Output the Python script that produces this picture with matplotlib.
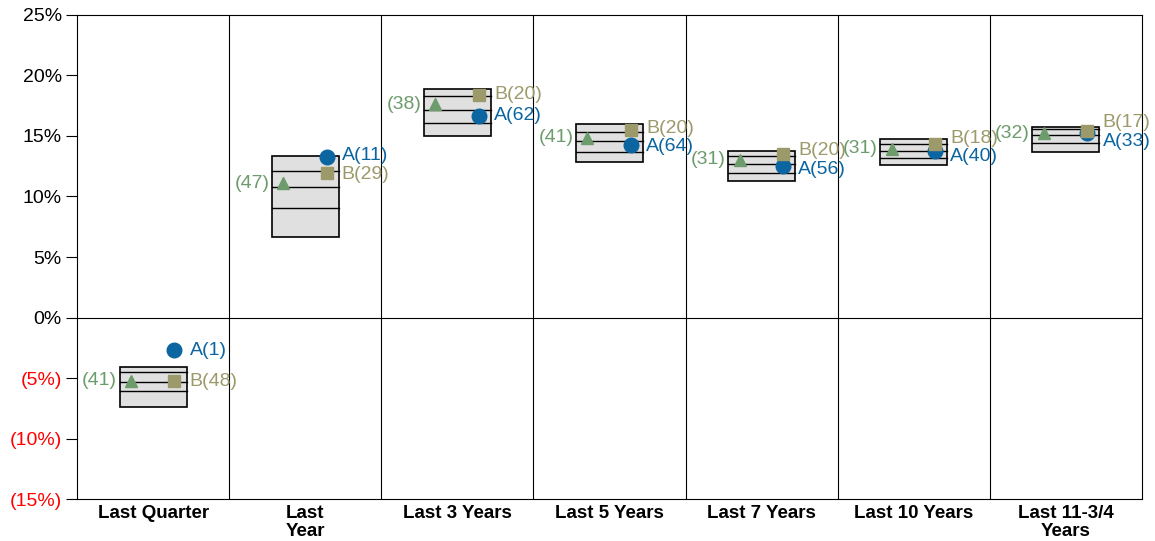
import numpy as np
import matplotlib.pyplot as plt
from matplotlib.patches import Rectangle
from matplotlib.ticker import FuncFormatter

plt.rcParams['font.family'] = ['Liberation Sans', 'DejaVu Sans']

categories = ['Last Quarter', 'Last\nYear', 'Last 3 Years', 'Last 5 Years',
              'Last 7 Years', 'Last 10 Years', 'Last 11-3/4\nYears']

# percentile boxes: top (5th), 25th, median, 75th, bottom (95th)
p05 = [-4.09, 13.37, 18.88, 15.97, 13.79, 14.73, 15.77]
p25 = [-4.48, 12.13, 18.33, 15.36, 13.35, 14.31, 15.55]
p50 = [-5.31, 10.81, 17.15, 14.61, 12.66, 13.76, 15.08]
p75 = [-6.05, 9.02, 16.10, 13.70, 11.97, 13.16, 14.40]
p95 = [-7.37, 6.68, 15.00, 12.88, 11.28, 12.60, 13.65]

a_vals = [-2.69, 13.24, 16.68, 14.26, 12.52, 13.79, 15.22]
a_rank = [1, 11, 62, 64, 56, 40, 33]
b_vals = [-5.25, 11.97, 18.39, 15.50, 13.51, 14.34, 15.44]
b_rank = [48, 29, 20, 20, 20, 18, 17]
c_vals = [-5.22, 11.09, 17.62, 14.86, 13.02, 13.93, 15.22]
c_rank = [41, 47, 38, 41, 31, 31, 32]

blue = '#0b65a0'
olive = '#9c9a6b'
green = '#6c9c6c'

fig = plt.figure(figsize=(11.55, 5.41), dpi=100)
ax = fig.add_axes([0.0667, 0.0776, 0.922, 0.8947])

n = len(categories)
x = np.arange(n)
hw = 0.22
for i in range(n):
    ax.add_patch(Rectangle((x[i] - hw, p95[i]), 2 * hw, p05[i] - p95[i],
                           facecolor='#e0e0e0', edgecolor='black', lw=1.2, zorder=2))
    for v in (p25[i], p50[i], p75[i]):
        ax.plot([x[i] - hw, x[i] + hw], [v, v], color='black', lw=1.0, zorder=3)

ax.plot(x - 0.145, c_vals, '^', color=green, ms=9, ls='none', zorder=4)
ax.plot(x + 0.14, a_vals, 'o', color=blue, ms=10.5, ls='none', zorder=4)
ax.plot(x + 0.14, b_vals, 's', color=olive, ms=9, ls='none', zorder=5)

# labels, pushed apart when the A and B markers are close
min_sep = 1.5
fs = 14
for i in range(n):
    ya, yb = a_vals[i], b_vals[i]
    if abs(ya - yb) < min_sep:
        mid = (ya + yb) / 2
        s = 1 if yb >= ya else -1
        yb = mid + s * min_sep / 2
        ya = mid - s * min_sep / 2
    ax.annotate(f'A({a_rank[i]})', (x[i] + 0.14, ya), xytext=(11, 0),
                textcoords='offset points', va='center', ha='left',
                color=blue, fontsize=fs, zorder=6)
    ax.annotate(f'B({b_rank[i]})', (x[i] + 0.14, yb), xytext=(11, 0),
                textcoords='offset points', va='center', ha='left',
                color=olive, fontsize=fs, zorder=6)
    ax.annotate(f'({c_rank[i]})', (x[i] - 0.145, c_vals[i]), xytext=(-10, 0),
                textcoords='offset points', va='center', ha='right',
                color=green, fontsize=fs, zorder=6)

for i in range(1, n):
    ax.axvline(i - 0.5, color='black', lw=0.8, zorder=1)
ax.axhline(0, color='black', lw=0.8, zorder=1)

ax.set_xlim(-0.5, n - 0.5)
ax.set_ylim(-15, 25)
ax.set_yticks(np.arange(-15, 26, 5))


def pct(v, pos):
    if v < 0:
        return f'({abs(v):.0f}%)'
    return f'{v:.0f}%'


ax.yaxis.set_major_formatter(FuncFormatter(pct))
for lab, v in zip(ax.get_yticklabels(), ax.get_yticks()):
    if v < 0:
        lab.set_color('red')
ax.tick_params(axis='y', length=8, width=0.8, labelsize=14, pad=3)
ax.set_xticks(x)
ax.set_xticklabels(categories, fontweight='bold', fontsize=13.5, linespacing=1.12)
ax.tick_params(axis='x', length=0, pad=4)
for sp in ax.spines.values():
    sp.set_linewidth(0.8)

fig.savefig('out.png', dpi=100)
